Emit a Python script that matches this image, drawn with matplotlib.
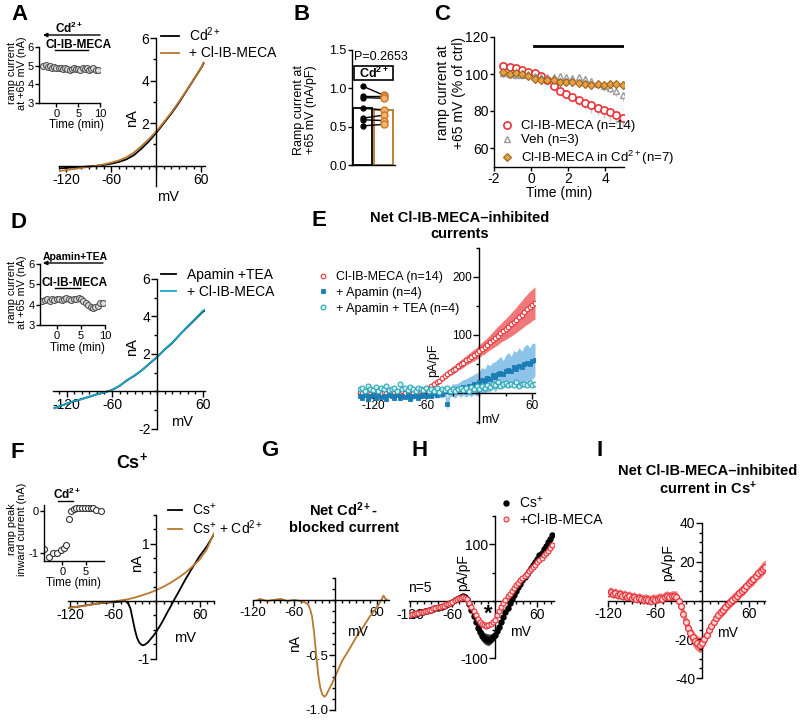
import numpy as np
import matplotlib
matplotlib.use('Agg')
import matplotlib.pyplot as plt
from matplotlib.ticker import FixedLocator, MultipleLocator, FormatStrFormatter
from matplotlib.patches import Rectangle

plt.rcParams['font.family'] = ['Liberation Sans', 'DejaVu Sans']
plt.rcParams['mathtext.fontset'] = 'custom'
plt.rcParams['mathtext.rm'] = 'Liberation Sans'
plt.rcParams['mathtext.bf'] = 'Liberation Sans:bold'
plt.rcParams['mathtext.it'] = 'Liberation Sans:italic'
plt.rcParams['axes.unicode_minus'] = False

BROWN = '#B8782E'
RED = '#E8333A'
CYAN = '#19A7C9'
BLUE = '#1B7DB5'
TEAL = '#2BA5B5'

# ---------------- DATA ----------------
# Panel A: I-V ramp (nA) in Cd2+ and with Cl-IB-MECA
a_v = [-130, -120, -110, -100, -90, -80, -70, -60, -50, -40, -30, -20, -10, 0, 10, 20, 30, 40, 50, 60, 63]
a_cd = [-0.12, -0.10, -0.08, -0.06, -0.03, 0.0, 0.04, 0.10, 0.18, 0.30, 0.50, 0.80, 1.15, 1.55, 2.0, 2.45, 2.95, 3.5, 4.05, 4.6, 4.8]
a_cl = [-0.25, -0.20, -0.15, -0.10, -0.05, 0.0, 0.07, 0.15, 0.25, 0.40, 0.62, 0.92, 1.25, 1.62, 2.05, 2.5, 3.0, 3.52, 4.07, 4.62, 4.85]
# Panel A inset: time course (nA)
a_in_t = [-3, -2.5, -2, -1.5, -1, -0.5, 0, 0.5, 1, 1.5, 2, 2.5, 3, 3.5, 4, 4.5, 5, 5.5, 6, 6.5, 7, 7.5, 8, 8.5, 9, 9.5]
a_in_i = [5.0, 5.05, 4.95, 5.0, 4.9, 4.95, 4.85, 4.9, 4.85, 4.8, 4.85, 4.8, 4.75, 4.8, 4.85, 4.8, 4.8, 4.75, 4.85, 4.8, 4.85, 4.75, 4.8, 4.85, 4.75, 4.75]

# Panel B: ramp current density (nA/pF), paired
b_ctrl = [1.03, 0.90, 0.88, 0.74, 0.61, 0.59, 0.51]
b_cl = [0.91, 0.90, 0.87, 0.72, 0.65, 0.58, 0.53]
b_means = [0.75, 0.72]

# Panel C: time course (% of ctrl)
c_t = [-1.5, -1.16, -0.82, -0.48, -0.14, 0.2, 0.54, 0.88, 1.22, 1.56, 1.9, 2.24, 2.58, 2.92, 3.26, 3.6, 3.94, 4.28, 4.62, 4.96]
c_cl = [104.5, 103.8, 103.2, 102.3, 101.2, 100.3, 98.8, 96.5, 93.5, 91.0, 89.3, 87.7, 86.0, 84.5, 83.0, 81.7, 80.5, 79.2, 77.8, 76.3]
c_cl_err = [2, 2, 2, 2, 2, 2, 2, 2.5, 2.5, 3, 3, 3, 3.5, 3.5, 4, 4, 4.5, 4.5, 5, 5]
c_veh = [100.5, 100, 99.5, 99.5, 99.8, 99, 98.5, 98.5, 98.5, 98.8, 98.5, 98, 98.2, 97.5, 96, 94.5, 93.5, 92.5, 91, 88.5]
c_veh_err = [1.5, 1.5, 1.5, 1.5, 1.5, 1.5, 1.5, 1.5, 1.5, 1.5, 1.5, 2, 2, 2, 2, 2, 2.5, 2.5, 3, 3]
c_cd = [101, 100, 100.5, 100, 99, 97.5, 97, 96.5, 96.5, 95.8, 95.5, 95.5, 95.2, 94.5, 94.3, 94.5, 94, 94.8, 94.5, 93.8]
c_cd_err = [3, 2.5, 2, 2, 2, 2, 2, 2, 2, 2, 2, 2, 2, 2, 2, 2, 2, 2, 2, 2]
c_bar = [0.15, 4.95]
c_bar_y = 115

# Panel D: I-V in apamin+TEA
d_v = [-136, -130, -120, -110, -100, -90, -80, -70, -60, -50, -40, -30, -20, -10, 0, 10, 20, 30, 40, 50, 60, 62]
d_ctl = [-0.88, -0.80, -0.65, -0.52, -0.40, -0.28, -0.15, -0.05, 0.08, 0.30, 0.60, 0.85, 1.15, 1.50, 1.85, 2.25, 2.60, 3.05, 3.45, 3.85, 4.25, 4.30]
d_cl = [-0.90, -0.78, -0.66, -0.50, -0.41, -0.27, -0.16, -0.04, 0.07, 0.31, 0.58, 0.87, 1.14, 1.52, 1.84, 2.27, 2.62, 3.04, 3.48, 3.88, 4.30, 4.35]
d_in_t = [-3, -2.5, -2, -1.5, -1, -0.5, 0, 0.5, 1, 1.5, 2, 2.5, 3, 3.5, 4, 4.5, 5, 5.5, 6, 6.5, 7, 7.5, 8, 8.5, 9, 9.5]
d_in_i = [4.2, 4.25, 4.3, 4.2, 4.3, 4.25, 4.3, 4.3, 4.25, 4.3, 4.35, 4.3, 4.25, 4.3, 4.3, 4.35, 4.3, 4.2, 4.1, 4.0, 3.9, 3.85, 3.9, 3.95, 4.1, 4.1]

# Panel E: net Cl-IB-MECA-inhibited currents (pA/pF), ramp sampled every 3 mV from -135 to 63
e_v = np.arange(-135, 64, 3)
e_red = [2, -1, 1, 0, -2, 1, 3, 0, -1, 2, 0, 1, -1, 2, 0, 1, 3, 0, 2, 1, 0, 2, 1, 3,
         4, 6, 9, 12, 15, 18, 21, 25, 29, 33, 36, 39, 42, 46, 49, 52, 56, 59, 62, 65, 68, 72,
         76, 79, 83, 87, 91, 95, 99, 103, 107, 110, 114, 118, 122, 126, 131, 135, 140, 144, 148, 152, 155]
e_red_err = [3] * 24 + [3, 3, 4, 4, 4, 5, 5, 5, 6, 6, 6, 7, 7, 7, 8, 8, 8, 9, 9, 10, 10, 11, 11, 12, 12,
                        13, 14, 15, 16, 16, 17, 18, 19, 20, 21, 22, 23, 24, 25, 26, 27, 27, 28]
e_apa = [-5, -8, -3, -10, -6, -4, -9, -2, -7, -5, -11, -4, -6, -8, -3, -9, -5, -7, -4, -10, -6, -3, -8, -5,
         -4, -6, -2, -5, -1, -3, 0, -2, 3, -20, 2, 5, 3, 7, 6, 10, 8, 12, 11, 15, 14, 18,
         22, 20, 26, 24, 30, 28, 33, 35, 32, 38, 40, 37, 44, 42, 47, 45, 50, 52, 49, 55, 57]
e_apa_err = [4, 5, 3, 4, 6, 4, 3, 5, 4, 4, 5, 3, 4, 6, 4, 5, 3, 4, 5, 4, 6, 4, 5, 4,
             5, 4, 6, 5, 7, 6, 8, 7, 9, 10, 8, 11, 12, 10, 14, 13, 16, 15, 18, 17, 20, 19, 22, 21, 24, 23,
             22, 26, 25, 28, 24, 27, 30, 26, 29, 28, 31, 27, 30, 32, 29, 31, 28]
e_tea = [6, 9, 4, 11, 7, 5, 10, 3, 8, 6, 12, 5, 7, 9, 4, 15, 6, 8, 5, 10, 7, 4, 9, 6,
         5, 8, 3, 7, 4, 9, 2, 6, 5, 8, 4, 7, 3, 6, 9, 5, 8, 4, 10, 7, 11, 6, 12, 9, 14, 10,
         16, 13, 18, 12, 15, 17, 13, 16, 14, 18, 12, 16, 15, 13, 17, 14, 16]

# Panel F: I-V in Cs+ (nA)
f_v_cs = [-123, -110, -100, -90, -80, -70, -60, -50, -45, -42, -39, -36, -33, -30, -27, -24, -21, -18, -15, -12,
          -8, -4, 0, 5, 10, 15, 20, 25, 30, 40, 50, 60, 70, 80]
f_cs = [-0.12, -0.10, -0.08, -0.06, -0.04, -0.03, -0.02, -0.01, 0.0, -0.01, -0.05, -0.14, -0.32, -0.50, -0.64,
        -0.72, -0.76, -0.77, -0.75, -0.72, -0.66, -0.60, -0.53, -0.43, -0.32, -0.20, -0.09, 0.03, 0.14, 0.37,
        0.58, 0.78, 0.95, 1.16]
f_v_cd = [-123, -110, -100, -90, -80, -70, -60, -50, -40, -30, -20, -10, 0, 10, 20, 30, 40, 50, 60, 70, 80]
f_cd = [-0.12, -0.10, -0.08, -0.06, -0.04, -0.02, -0.01, 0.01, 0.03, 0.06, 0.10, 0.14, 0.19, 0.25, 0.32, 0.40,
        0.49, 0.60, 0.72, 0.90, 1.18]
f_in_t = [-4.0, -2.97, -2.0, -1.2, -0.3, 0.28, 0.79, 1.37, 1.87, 2.45, 3.0, 3.6, 4.3, 4.85, 5.5, 6.1, 6.7, 7.2, 8.3]
f_in_i = [-0.91, -1.09, -0.99, -1.01, -0.93, -0.87, -0.80, -0.20, 0.0, 0.04, 0.06, 0.06, 0.07, 0.07, 0.07, 0.06,
          0.06, 0.02, 0.0]

# Panel G: net Cd2+-blocked current (nA)
g_v = [-113, -110, -100, -90, -80, -70, -60, -50, -45, -40, -37, -34, -31, -28, -25, -22, -19, -16, -13, -10,
       -5, 0, 5, 10, 20, 30, 40, 50, 60, 66, 70, 73, 75]
g_i = [0.0, 0.01, -0.01, 0.0, 0.01, -0.01, 0.0, -0.01, -0.02, -0.04, -0.08, -0.15, -0.30, -0.50, -0.68, -0.80,
       -0.86, -0.88, -0.86, -0.82, -0.76, -0.69, -0.62, -0.55, -0.45, -0.34, -0.25, -0.15, -0.07, -0.01, 0.04,
       0.01, 0.0]

# Panel H: I-V in Cs+ (pA/pF), every 3 mV from -120 to 81
h_v = np.arange(-120, 82, 3)
h_cs = [-25, -24, -23, -22, -21, -20, -19, -18, -17, -16, -15, -14, -13, -12, -11, -10, -8, -7, -5, -3,
        -1, 1, 3, 5, 7, 8, 7,
        3, -5, -15, -26, -37, -47, -55, -61, -65, -67, -68, -67, -64, -60,
        -53, -45, -37, -28, -20, -12, -4, 4, 11, 18, 24, 30, 36, 42, 47, 53, 58, 64, 69, 74,
        80, 85, 91, 97, 103, 109, 115]
h_cs_err = [3] * 27 + [4, 5, 6, 7, 8, 9, 10, 10, 10, 10, 10, 9, 8, 7] + [6, 5, 5, 4, 4] + [3] * 20 + [4, 4]
h_cl = [-25, -23, -23, -21, -21, -19, -19, -17, -17, -15, -15, -13, -13, -11, -11, -9, -8, -6, -5, -3,
        -1, 1, 3, 5, 6, 7, 6,
        3, -3, -10, -18, -25, -31, -36, -40, -42, -43, -42, -40, -37, -33,
        -25, -18, -11, -4, 2, 8, 13, 18, 23, 28, 32, 36, 40, 44, 48, 52, 56, 60, 64, 68,
        72, 76, 80, 84, 88, 93, 98]
h_cl_err = [3] * 27 + [3, 4, 4, 5, 5, 6, 6, 6, 6, 6, 6, 5, 5, 4] + [3] * 27

# Panel I: net Cl-IB-MECA-inhibited current in Cs+ (pA/pF)
i_v = np.arange(-120, 82, 3)
i_i = [4, 4.5, 3.5, 4, 3, 3.5, 2.5, 3, 2, 2.5, 1.5, 2, 1, 1.5, 1, 0.5, 1, 0.5, 0, 1, 0.5, 1, 1.5, 1, 2, 2.5, 2,
       2.5, 2.5, 2, 0, -3, -7, -11, -14, -17, -19, -21, -22, -23, -22,
       -20, -18, -15, -13, -11, -9, -7.5, -6, -5, -3.5, -2, -1, 0.5, 1.5, 2.5, 4, 5, 6, 7.5, 9, 10, 11, 12.5,
       14, 15, 16.5, 17.5]
i_err = [2.5] * 27 + [2.5, 2.5, 3, 3, 3.5, 4, 4, 4, 4, 4, 4, 4, 4, 4] + [3] * 24 + [3.5, 3.5, 3.5]

# ---------------- FIGURE ----------------
W, H = 800, 721
fig = plt.figure(figsize=(8, 7.21), dpi=100)


def add_ax(x0, x1, y0, y1):
    a = fig.add_axes([x0 / W, 1 - y1 / H, (x1 - x0) / W, (y1 - y0) / H])
    a.patch.set_alpha(0)
    return a


def zero_axes(ax, xlim, ylim, xt, yt, xmin, ymin, fs, yfmt=None):
    ax.set_xlim(xlim)
    ax.set_ylim(ylim)
    for s in ['top', 'right']:
        ax.spines[s].set_visible(False)
    for s in ['left', 'bottom']:
        ax.spines[s].set_position(('data', 0))
        ax.spines[s].set_linewidth(1.0)
    ax.xaxis.set_major_locator(FixedLocator(xt))
    ax.yaxis.set_major_locator(FixedLocator(yt))
    ax.xaxis.set_minor_locator(MultipleLocator(xmin))
    ax.yaxis.set_minor_locator(MultipleLocator(ymin))
    if yfmt:
        ax.yaxis.set_major_formatter(FormatStrFormatter(yfmt))
    ax.tick_params(which='both', direction='out', width=1.0, labelsize=fs, pad=1)
    ax.tick_params(which='major', length=4)
    ax.tick_params(which='minor', length=2.5)


def box_axes(ax, fs):
    for s in ['top', 'right']:
        ax.spines[s].set_visible(False)
    for s in ['left', 'bottom']:
        ax.spines[s].set_linewidth(1.0)
    ax.tick_params(which='both', direction='out', width=1.0, labelsize=fs, pad=1, length=3)


# ----- Panel A -----
axA = add_ax(59, 205, 38, 186)
zero_axes(axA, (-130, 65), (-0.95, 6), [-120, -60, 60], [2, 4, 6], 10, 1, 10)
lA1, = axA.plot(a_v, a_cd, color='black', lw=1.3)
lA2, = axA.plot(a_v, a_cl, color=BROWN, lw=1.3)
axA.legend([lA1, lA2], ['Cd$^{2+}$', '+ Cl-IB-MECA'], loc='upper left', bbox_to_anchor=(161 / W, 1 - 25 / H),
           bbox_transform=fig.transFigure, frameon=False, fontsize=10, handlelength=1.3, handletextpad=0.7,
           borderpad=0, borderaxespad=0, labelspacing=0.2)

axAi = add_ax(39, 100, 47, 103)
box_axes(axAi, 8)
axAi.set_xlim(-4, 10)
axAi.set_ylim(3, 6)
axAi.set_xticks([0, 5, 10])
axAi.set_yticks([3, 4, 5, 6])
axAi.plot(a_in_t, a_in_i, 'o', mfc='#DDDDDD', mec='#555555', ms=4.3, mew=0.8)

# ----- Panel B -----
axB = add_ax(352, 395, 50, 165)
box_axes(axB, 9)
axB.set_xlim(0, 2.25)
axB.set_ylim(0, 1.5)
axB.set_xticks([])
axB.set_yticks([0, 0.5, 1.0, 1.5])
axB.yaxis.set_major_formatter(FormatStrFormatter('%.1f'))
axB.bar([0.55, 1.65], b_means, width=1.0, facecolor='white', edgecolor=['black', BROWN], lw=1.3, zorder=1)
for c, l in zip(b_ctrl, b_cl):
    axB.plot([0.55, 1.65], [c, l], color='black', lw=1.0, zorder=2)
axB.plot([0.55] * len(b_ctrl), b_ctrl, 'o', color='black', ms=3.5, zorder=3)
axB.plot([1.65] * len(b_cl), b_cl, 'o', mfc='#F5B46A', mec='#C8782A', ms=5, mew=1, zorder=3)

# ----- Panel C -----
axC = add_ax(494, 623.5, 37, 166.5)
box_axes(axC, 10)
axC.set_xlim(-2, 5)
axC.set_ylim(50, 120)
axC.set_xticks([-2, 0, 2, 4])
axC.set_yticks([60, 80, 100, 120])
zeros = [0] * len(c_t)
axC.errorbar(c_t, c_cl, yerr=[c_cl_err, zeros], fmt='none', ecolor='#C8C8C8', elinewidth=1, capsize=0)
axC.errorbar(c_t, c_veh, yerr=[c_veh_err, zeros], fmt='none', ecolor='#C8C8C8', elinewidth=1, capsize=0)
axC.errorbar(c_t, c_cd, yerr=[c_cd_err, zeros], fmt='none', ecolor='#C8C8C8', elinewidth=1, capsize=0)
pC1, = axC.plot(c_t, c_cl, 'o', mfc='white', mec=RED, ms=5.2, mew=1.2, zorder=3)
pC2, = axC.plot(c_t, c_veh, '^', mfc='white', mec='#999999', ms=4.5, mew=1, zorder=4)
pC3, = axC.plot(c_t, c_cd, 'D', mfc='#E8A040', mec='#9A6420', ms=4.5, mew=0.8, zorder=5)
axC.plot(c_bar, [c_bar_y, c_bar_y], color='black', lw=2)
axC.legend([pC1, pC2, pC3], ['Cl-IB-MECA (n=14)', 'Veh (n=3)', 'Cl-IB-MECA in Cd$^{2+}$(n=7)'],
           loc='upper left', bbox_to_anchor=(500 / W, 1 - 120 / H), bbox_transform=fig.transFigure,
           frameon=False, fontsize=9.5, handlelength=1.0, handletextpad=0.6, borderpad=0, borderaxespad=0,
           labelspacing=0.15)

# ----- Panel D -----
axD = add_ax(53, 205, 279, 429)
zero_axes(axD, (-138, 63), (-2, 6), [-120, -60, 60], [-2, 2, 4, 6], 10, 1, 10)
lD1, = axD.plot(d_v, d_ctl, color='black', lw=1.3)
lD2, = axD.plot(d_v, d_cl, color=CYAN, lw=1.3)
axD.legend([lD1, lD2], ['Apamin +TEA', '+ Cl-IB-MECA'], loc='upper left', bbox_to_anchor=(161 / W, 1 - 268 / H),
           bbox_transform=fig.transFigure, frameon=False, fontsize=10, handlelength=1.1, handletextpad=0.8,
           borderpad=0, borderaxespad=0, labelspacing=0.2)

axDi = add_ax(40, 105, 264, 325)
box_axes(axDi, 8)
axDi.set_xlim(-3.5, 10)
axDi.set_ylim(3, 6)
axDi.set_xticks([0, 5, 10])
axDi.set_yticks([3, 4, 5, 6])
axDi.plot(d_in_t, d_in_i, 'o', mfc='#DDDDDD', mec='#555555', ms=4.3, mew=0.8)

# ----- Panel E -----
axE = add_ax(358, 535, 248, 423)
zero_axes(axE, (-137, 63), (-52, 250), [-120, -60, 60], [100, 200], 30, 50, 8.5)
e_red_lo = [v - e for v, e in zip(e_red, e_red_err)]
e_red_hi = [v + e for v, e in zip(e_red, e_red_err)]
e_apa_lo = [v - e for v, e in zip(e_apa, e_apa_err)]
e_apa_hi = [v + e for v, e in zip(e_apa, e_apa_err)]
axE.fill_between(e_v, e_apa_lo, e_apa_hi, color='#8EC3EA', lw=0, zorder=1)
axE.fill_between(e_v, e_red_lo, e_red_hi, color='#F07878', lw=0, zorder=1)
pE1, = axE.plot(e_v, e_red, 'o', mfc='white', mec=RED, ms=3.3, mew=0.8, zorder=3)
pE2, = axE.plot(e_v, e_apa, 's', mfc=BLUE, mec=BLUE, ms=3.0, mew=0.6, zorder=4)
pE3, = axE.plot(e_v, e_tea, 'o', mfc='#CDEFF2', mec=TEAL, ms=3.5, mew=0.8, zorder=5)
axE.legend([pE1, pE2, pE3], ['Cl-IB-MECA (n=14)', '+ Apamin (n=4)', '+ Apamin + TEA (n=4)'],
           loc='upper left', bbox_to_anchor=(318 / W, 1 - 271 / H), bbox_transform=fig.transFigure,
           frameon=False, fontsize=9, handlelength=0.8, handletextpad=0.6, borderpad=0, borderaxespad=0,
           labelspacing=0.3)

# ----- Panel F -----
axF = add_ax(68, 214, 514.75, 658.5)
zero_axes(axF, (-123, 80), (-1, 1.5), [-120, -60, 60], [-1, 1], 10, 0.25, 10)
lF1, = axF.plot(f_v_cs, f_cs, color='black', lw=1.3)
lF2, = axF.plot(f_v_cd, f_cd, color=BROWN, lw=1.3)
axF.legend([lF1, lF2], ['Cs$^{+}$', 'Cs$^{+}$ + Cd$^{2+}$'], loc='upper left', bbox_to_anchor=(168 / W, 1 - 502 / H),
           bbox_transform=fig.transFigure, frameon=False, fontsize=10, handlelength=1.0, handletextpad=0.7,
           borderpad=0, borderaxespad=0, labelspacing=0.0)

axFi = add_ax(44, 104, 504.7, 561.4)
box_axes(axFi, 8)
axFi.set_xlim(-4, 9)
axFi.set_ylim(-1.2, 0.15)
axFi.set_xticks([0, 5])
axFi.set_yticks([-1, 0])
axFi.plot(f_in_t, f_in_i, 'o', mfc='white', mec='#333333', ms=4.3, mew=0.8)

# ----- Panel G -----
axG = add_ax(253, 389, 578, 710)
zero_axes(axG, (-120, 78), (-1.0, 0.2), [-120, -60, 60], [-1.0, -0.5], 10, 0.1, 9.5, yfmt='%.1f')
axG.plot(g_v, g_i, color=BROWN, lw=1.3)

# ----- Panel H -----
axH = add_ax(408.5, 553.6, 515.5, 658)
zero_axes(axH, (-122, 83), (-100, 150), [-120, -60, 60], [-100, 100], 10, 50, 10)
h_cs_lo = [v - e for v, e in zip(h_cs, h_cs_err)]
h_cs_hi = [v + e for v, e in zip(h_cs, h_cs_err)]
h_cl_lo = [v - e for v, e in zip(h_cl, h_cl_err)]
h_cl_hi = [v + e for v, e in zip(h_cl, h_cl_err)]
axH.fill_between(h_v, h_cs_lo, h_cs_hi, color='#333333', lw=0, zorder=1)
pH1, = axH.plot(h_v, h_cs, 'o', color='black', ms=3.6, zorder=2)
axH.fill_between(h_v, h_cl_lo, h_cl_hi, color='#F07878', lw=0, zorder=3)
pH2, = axH.plot(h_v, h_cl, 'o', mfc='#FBD6D6', mec=RED, ms=3.6, mew=0.8, zorder=4)
axH.legend([pH1, pH2], ['Cs$^{+}$', '+Cl-IB-MECA'], loc='upper left', bbox_to_anchor=(500 / W, 1 - 495 / H),
           bbox_transform=fig.transFigure, frameon=False, fontsize=10, handlelength=0.8, handletextpad=0.6,
           borderpad=0, borderaxespad=0, labelspacing=0.15)

# ----- Panel I -----
axI = add_ax(608.4, 765.2, 523, 678)
zero_axes(axI, (-120, 81), (-40, 40), [-120, -60, 60], [-40, -20, 20, 40], 10, 5, 10)
i_lo = [v - e for v, e in zip(i_i, i_err)]
i_hi = [v + e for v, e in zip(i_i, i_err)]
axI.fill_between(i_v, i_lo, i_hi, color='#F07878', lw=0, zorder=1)
axI.plot(i_v, i_i, 'o', mfc='#FBD6D6', mec=RED, ms=4.2, mew=0.9, zorder=3)

# ---------------- TEXT OVERLAY ----------------
ov = fig.add_axes([0, 0, 1, 1], zorder=10)
ov.set_xlim(0, W)
ov.set_ylim(H, 0)
ov.axis('off')
ov.patch.set_alpha(0)


def T(x, y, s, fs=10, bold=False, rot=0, ha='center', va='center', **kw):
    ov.text(x, y, s, fontsize=fs, fontweight='bold' if bold else 'normal', rotation=rot, ha=ha, va=va, **kw)


for lab, x, y in [('A', 19, 15), ('B', 302, 15), ('C', 442, 14), ('D', 18, 223), ('E', 319, 220),
                  ('F', 17, 452), ('G', 270, 450), ('H', 420, 450), ('I', 600, 450)]:
    T(x, y, lab, fs=16, bold=True)

# A
T(132, 118, 'nA', 10.5, rot=90)
T(168, 197, 'mV', 10.5)
T(17, 73, 'ramp current\nat +65 mV (nA)', 7.8, rot=90, linespacing=0.95)
T(76, 125, 'Time (min)', 8.3)
T(69, 28, r'Cd$^{\mathbf{2+}}$', 8.5, bold=True)
ov.annotate('', xy=(43, 35), xytext=(100, 35), arrowprops=dict(arrowstyle='-|>', lw=1, color='black',
                                                              mutation_scale=6, shrinkA=0, shrinkB=0))
T(79, 45, 'Cl-IB-MECA', 8.5, bold=True)
ov.plot([55, 88], [50, 50], color='black', lw=1)

# B
T(305, 110, 'Ramp current at\n+65 mV (nA/pF)', 9, rot=90, linespacing=1.1)
T(381, 57, 'P=0.2653', 9)
ov.add_patch(Rectangle((354, 66), 39, 13.5, fill=False, ec='black', lw=1.2))
T(373.5, 73, r'Cd$^{\mathbf{2+}}$', 9, bold=True)

# C
T(451, 93, 'ramp current at\n+65 mV (% of ctrl)', 10, rot=90, linespacing=1.1)
T(559, 193, 'Time (min)', 10)

# D
T(132, 347, 'nA', 10.5, rot=90)
T(182, 422, 'mV', 10.5)
T(17, 292, 'ramp current\nat +65 mV (nA)', 7.8, rot=90, linespacing=0.95)
T(77, 348, 'Time (min)', 8.3)
T(75, 257, 'Apamin+TEA', 7.5, bold=True)
ov.annotate('', xy=(43, 263), xytext=(103, 263), arrowprops=dict(arrowstyle='-|>', lw=1, color='black',
                                                                mutation_scale=6, shrinkA=0, shrinkB=0))
T(75, 283, 'Cl-IB-MECA', 8.5, bold=True)
ov.plot([55, 80], [288, 288], color='black', lw=1)

# E
T(460, 226, 'Net Cl-IB-MECA–inhibited\ncurrents', 10.5, bold=True, linespacing=1.15)
T(433, 360, 'pA/pF', 9, rot=90)
T(490, 420, 'mV', 9)

# F
T(132, 462, 'Cs$^{\\mathbf{+}}$', 13, bold=True)
T(17, 529, 'ramp peak\ninward current (nA)', 7.8, rot=90, linespacing=0.95)
T(73, 583, 'Time (min)', 8.3)
T(67, 494, r'Cd$^{\mathbf{2+}}$', 8.5, bold=True)
ov.plot([58, 73], [501, 501], color='black', lw=1)
T(137, 563, 'nA', 10.5, rot=90)
T(185, 638, 'mV', 10.5)

# G
T(344, 518, 'Net Cd$^{\\mathbf{2+}}$-\nblocked current', 10.5, bold=True, linespacing=1.15)
T(295, 643, 'nA', 10, rot=90)
T(357, 632, 'mV', 10)

# H
T(420, 588, 'n=5', 10)
T(488, 614, '*', 16, bold=True)
T(463, 573, 'pA/pF', 10, rot=90)
T(520, 632, 'mV', 10)

# I
T(708, 481, 'Net Cl-IB-MECA–inhibited\ncurrent in Cs$^{\\mathbf{+}}$', 10.5, bold=True, linespacing=1.15)
T(668, 563, 'pA/pF', 10, rot=90)
T(727, 633, 'mV', 10)

fig.savefig('out.png', dpi=100)
